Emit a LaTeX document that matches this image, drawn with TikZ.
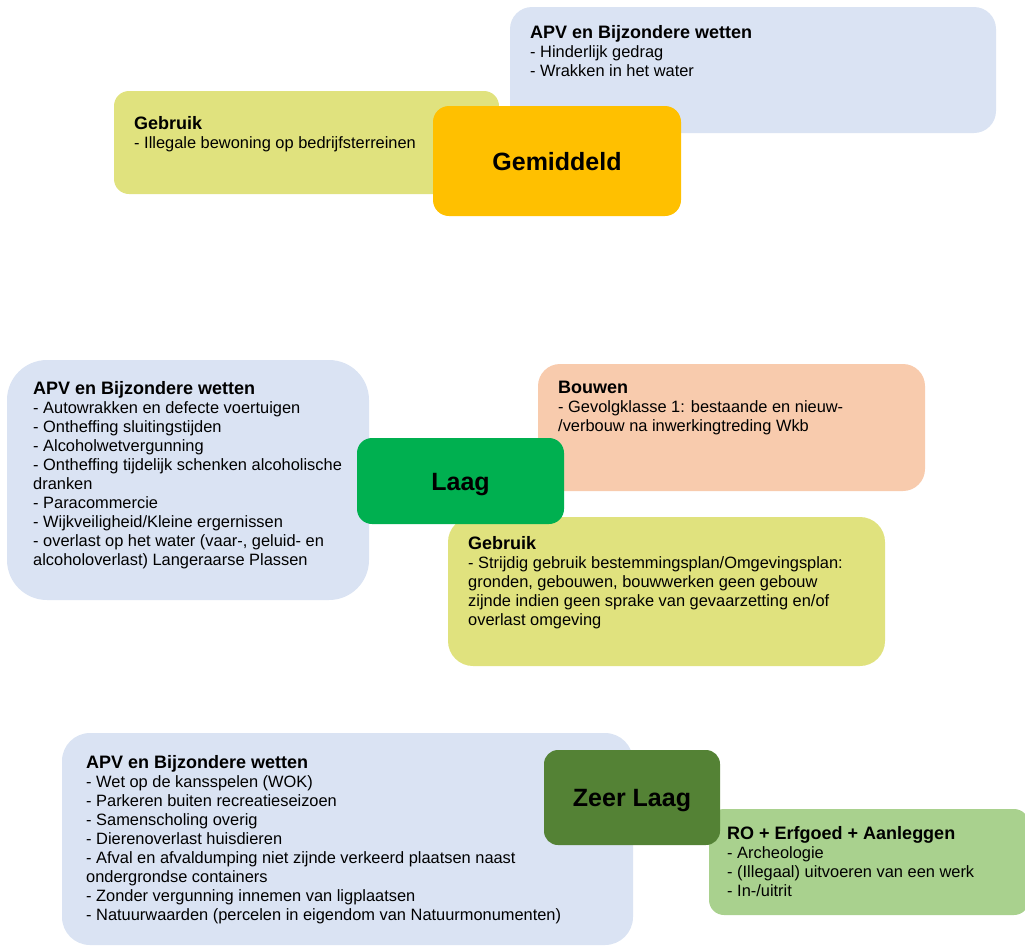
\documentclass[tikz,border=0pt]{standalone}
\usepackage{fontspec}
\setmainfont{Liberation Sans}
\definecolor{apvblue}{HTML}{DAE3F3}
\definecolor{gebruikyg}{HTML}{E0E27E}
\definecolor{peach}{HTML}{F8CBAD}
\definecolor{orangelvl}{HTML}{FFC000}
\definecolor{greenlvl}{HTML}{00B050}
\definecolor{darkgreenlvl}{HTML}{548235}
\definecolor{lightgreen}{HTML}{A9D18E}
\newcommand\ttl[1]{{\bfseries\fontsize{18}{19}\selectfont #1}}
\begin{document}
\begin{tikzpicture}[x=1pt,y=-1pt,
  box/.style={inner sep=0pt, outer sep=0pt, anchor=north west},
  txt/.style={anchor=north west, inner sep=0pt, align=left, font=\fontsize{16.4}{19}\selectfont},
  lvl/.style={font=\bfseries\fontsize{25}{30}\selectfont, text height=18pt, text depth=0pt}]
\useasboundingbox (0,0) rectangle (1025,945);
% ---------- Gemiddeld ----------
\node[box, fill=apvblue, rounded corners=22pt, minimum width=486pt, minimum height=126pt] (apv1) at (510,7) {};
\node[box, fill=gebruikyg, rounded corners=15pt, minimum width=385pt, minimum height=103pt] (geb1) at (114,91) {};
\node[box, fill=orangelvl, rounded corners=16pt, minimum width=248pt, minimum height=110pt, lvl] (gem) at (433,106) {Gemiddeld};
\node[txt] (t1) at (530,25) {\ttl{APV en Bijzondere wetten}\\- Hinderlijk gedrag\\- Wrakken in het water};
\node[txt] (t2) at (134,116) {\ttl{Gebruik}\\- Illegale bewoning op bedrijfsterreinen};
% ---------- Laag ----------
\node[box, fill=apvblue, rounded corners=40pt, minimum width=362pt, minimum height=240pt] (apv2) at (7,360) {};
\node[box, fill=peach, rounded corners=22pt, minimum width=387pt, minimum height=127pt] (bouw) at (538,364) {};
\node[box, fill=gebruikyg, rounded corners=25pt, minimum width=437pt, minimum height=149pt] (geb2) at (448,517) {};
\node[box, fill=greenlvl, rounded corners=15pt, minimum width=207pt, minimum height=86pt, lvl] (laag) at (357,438) {Laag};
\node[txt] (t3) at (33,381) {\ttl{APV en Bijzondere wetten}\\- Autowrakken en defecte voertuigen\\- Ontheffing sluitingstijden\\- Alcoholwetvergunning\\- Ontheffing tijdelijk schenken alcoholische\\dranken\\- Paracommercie\\- Wijkveiligheid/Kleine ergernissen\\- overlast op het water (vaar-, geluid- en\\alcoholoverlast) Langeraarse Plassen};
\node[txt] (t4) at (558,381) {\ttl{Bouwen}\\- Gevolgklasse 1: bestaande en nieuw-\\/verbouw na inwerkingtreding Wkb};
\node[txt] (t5) at (468,536) {\ttl{Gebruik}\\- Strijdig gebruik bestemmingsplan/Omgevingsplan:\\gronden, gebouwen, bouwwerken geen gebouw\\zijnde indien geen sprake van gevaarzetting en/of\\overlast omgeving};
% ---------- Zeer Laag ----------
\node[box, fill=apvblue, rounded corners=28pt, minimum width=571pt, minimum height=212pt] (apv3) at (62,733) {};
\node[box, fill=lightgreen, rounded corners=15pt, minimum width=320pt, minimum height=106pt] (ro) at (709,809) {};
\node[box, fill=darkgreenlvl, rounded corners=14pt, minimum width=176pt, minimum height=95pt, lvl] (zl) at (544,750) {Zeer Laag};
\node[txt] (t6) at (86,755) {\ttl{APV en Bijzondere wetten}\\- Wet op de kansspelen (WOK)\\- Parkeren buiten recreatieseizoen\\- Samenscholing overig\\- Dierenoverlast huisdieren\\- Afval en afvaldumping niet zijnde verkeerd plaatsen naast\\ondergrondse containers\\- Zonder vergunning innemen van ligplaatsen\\- Natuurwaarden (percelen in eigendom van Natuurmonumenten)};
\node[txt] (t7) at (727,826) {\ttl{RO + Erfgoed + Aanleggen}\\- Archeologie\\- (Illegaal) uitvoeren van een werk\\- In-/uitrit};
\end{tikzpicture}
\end{document}
